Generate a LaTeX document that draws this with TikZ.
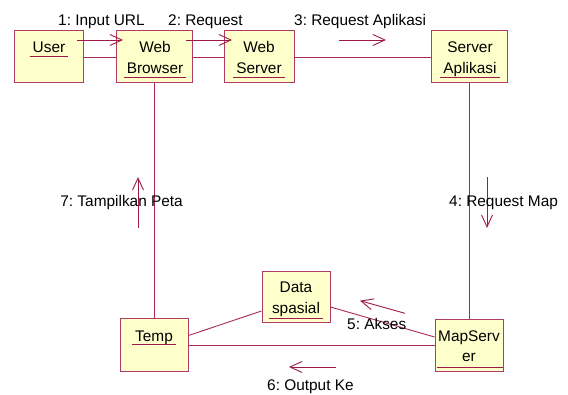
\documentclass[tikz,border=0pt]{standalone}
\usepackage{fontspec}
\setmainfont{Liberation Sans}
\frenchspacing
\usetikzlibrary{arrows.meta,calc}
\definecolor{objline}{HTML}{B03A68}
\definecolor{linkline}{HTML}{A8285A}
\definecolor{msgline}{HTML}{A0184A}
\definecolor{objfill}{HTML}{FFFFCC}
\tikzset{
  obj/.style={draw=objline, line width=1pt, fill=objfill, rectangle, inner sep=0pt},
  txt/.style={font=\fontsize{15.4}{18}\selectfont, inner xsep=3pt, inner ysep=0pt, anchor=base},
  uline/.style={draw=msgline, line width=0.9pt},
  link/.style={draw=linkline, line width=0.9pt},
  msg/.style={draw=msgline, line width=0.9pt, -{Straight Barb[length=12pt,width=11pt,line width=0.9pt]}},
  msglbl/.style={font=\fontsize{15.4}{18}\selectfont, inner sep=0pt}
}
\begin{document}
\begin{tikzpicture}[x=1pt,y=-1pt]
\useasboundingbox (0,0) rectangle (568,395);

% objects
\node[obj, minimum width=69pt, minimum height=52pt] (user) at (48.5,57) {};
\node[obj, minimum width=76pt, minimum height=52pt] (browser) at (154,57) {};
\node[obj, minimum width=70pt, minimum height=52pt] (wserver) at (259,57) {};
\node[obj, minimum width=76pt, minimum height=52pt] (appsrv) at (469,57) {};
\node[obj, minimum width=68pt, minimum height=53pt] (temp) at (154,345.5) {};
\node[obj, minimum width=68pt, minimum height=51pt] (data) at (296,297.5) {};
\node[obj, minimum width=68pt, minimum height=52pt] (mapsrv) at (469,346) {};

% links between objects
\draw[link] (user.east) -- (browser.west);
\draw[link] (browser.east) -- (wserver.west);
\draw[link] (wserver.east) -- (appsrv.west);
\draw[link] (browser.south) -- (temp.north);
\draw[link] (appsrv.south) -- (mapsrv.north);
\draw[link] (temp.east) -- (temp.east -| mapsrv.west);
\draw[link] ([yshift=10pt]temp.east) -- ([yshift=-13.5pt]data.west);
\draw[link] ([yshift=-9.5pt]data.east) -- ([yshift=9pt]mapsrv.west);

% object names
\node[txt] (userA) at (49,52.3) {User};
\draw[uline] (userA.west |- 0,56) -- (userA.east |- 0,56);

\node[txt] (browserA) at (155,52.3) {Web};
\node[txt] (browserB) at (155,73.3) {Browser};
\draw[uline] (browserB.west |- 0,77.3) -- (browserB.east |- 0,77.3);

\node[txt] (wserverA) at (259,52.3) {Web};
\node[txt] (wserverB) at (259,73.3) {Server};
\draw[uline] (wserverB.west |- 0,77.3) -- (wserverB.east |- 0,77.3);

\node[txt] (appsrvA) at (470,52.3) {Server};
\node[txt] (appsrvB) at (470,73.3) {Aplikasi};
\draw[uline] (appsrvB.west |- 0,77.3) -- (appsrvB.east |- 0,77.3);

\node[txt] (tempA) at (154,341.3) {Temp};
\draw[uline] (tempA.west |- 0,344.3) -- (tempA.east |- 0,344.3);

\node[txt] (dataA) at (296,292.7) {Data};
\node[txt] (dataB) at (296,313.3) {spasial};
\draw[uline] (dataB.west |- 0,318.3) -- (dataB.east |- 0,318.3);

\node[txt] (mapsrvA) at (469,341.7) {MapServ};
\node[txt] (mapsrvB) at (469,361.7) {er};
\draw[uline] ([xshift=2pt]mapsrv.west |- 0,367) -- ([xshift=-1pt]mapsrv.east |- 0,367);

% message arrows
\coordinate (m1a) at (77,40);  \coordinate (m1b) at (123,40);
\coordinate (m2a) at (186,40); \coordinate (m2b) at (232,40);
\coordinate (m3a) at (339,40); \coordinate (m3b) at (386,40);
\coordinate (m4a) at (487,177); \coordinate (m4b) at (487,228);
\coordinate (m5a) at (405,313.3); \coordinate (m5b) at (360,300.7);
\coordinate (m6a) at (336,367); \coordinate (m6b) at (289,367);
\coordinate (m7a) at (138,228); \coordinate (m7b) at (138,177);
\draw[msg] (m1a) -- (m1b);
\draw[msg] (m2a) -- (m2b);
\draw[msg] (m3a) -- (m3b);
\draw[msg] (m4a) -- (m4b);
\draw[msg] (m5a) -- (m5b);
\draw[msg] (m6a) -- (m6b);
\draw[msg] (m7a) -- (m7b);

% message labels
\node[msglbl, anchor=base west] (l1) at (58,26) {1: Input URL};
\node[msglbl, anchor=base west] (l2) at (168,26) {2: Request};
\node[msglbl, anchor=base west] (l3) at (294,26) {3: Request Aplikasi};
\node[msglbl, anchor=base west] (l4) at (449,206.7) {4: Request Map};
\node[msglbl, anchor=base west] (l5) at (347,330) {5: Akses};
\node[msglbl, anchor=base west] (l6) at (267,390.5) {6: Output Ke};
\node[msglbl, anchor=base east] (l7) at (183,206.7) {7: Tampilkan Peta};
\end{tikzpicture}
\end{document}
